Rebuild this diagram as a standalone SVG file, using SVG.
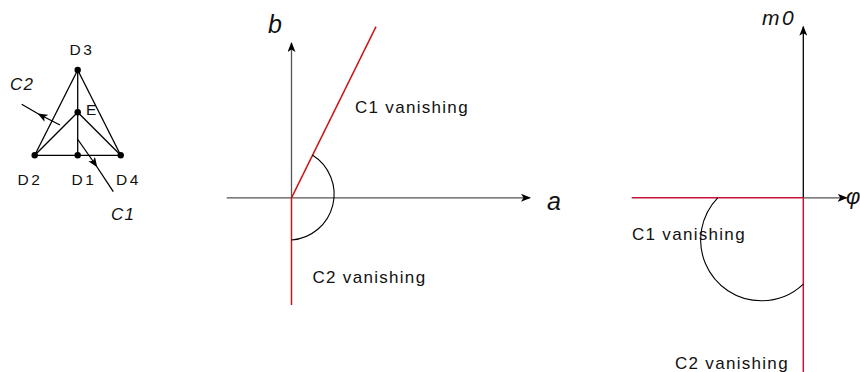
<svg xmlns="http://www.w3.org/2000/svg" width="860" height="372" viewBox="0 0 860 372">
<defs>
<style>
.t{font-family:"Liberation Sans",Arial,sans-serif;fill:#111;}
.lab{font-size:15.5px;letter-spacing:2.5px;}
.van{font-size:17px;letter-spacing:1.3px;}
.it{font-style:italic;}
.blk{stroke:#000;stroke-width:1.3;fill:none;}
.ax{stroke:#555;stroke-width:1.3;fill:none;}
.red1{stroke:#d01414;stroke-width:1.5;fill:none;}
.red2{stroke:#c8143c;stroke-width:1.5;fill:none;}
.arc{stroke:#000;stroke-width:1.1;fill:none;}
</style>
<marker id="ah" markerUnits="userSpaceOnUse" markerWidth="10" markerHeight="8" refX="9" refY="4" orient="auto" viewBox="0 0 10 8">
<path d="M0,0 L10,4 L0,8 L2.5,4 Z" fill="#000"/>
</marker>
</defs>
<rect width="860" height="372" fill="#fff"/>

<g id="tetra">
<g id="edges" class="blk">
<line x1="77.7" y1="70" x2="34.7" y2="155.3"/>
<line x1="77.7" y1="70" x2="120.7" y2="155.3"/>
<line x1="77.7" y1="70" x2="77.7" y2="155.3"/>
<line x1="77.7" y1="112.3" x2="34.7" y2="155.3"/>
<line x1="77.7" y1="112.3" x2="120.7" y2="155.3"/>
<line x1="34.7" y1="155.3" x2="120.7" y2="155.3"/>
</g>
<g id="D3"><circle cx="77.7" cy="70" r="3.2" fill="#000"/><text class="t lab" x="69.5" y="55">D3</text></g>
<g id="E"><circle cx="77.7" cy="112.3" r="3.2" fill="#000"/><text class="t lab" x="86" y="115">E</text></g>
<g id="D2"><circle cx="34.7" cy="155.3" r="3.2" fill="#000"/><text class="t lab" x="17.5" y="185">D2</text></g>
<g id="D1"><circle cx="77.7" cy="155.3" r="3.2" fill="#000"/><text class="t lab" x="71.5" y="185">D1</text></g>
<g id="D4"><circle cx="120.7" cy="155.3" r="3.2" fill="#000"/><text class="t lab" x="116" y="185">D4</text></g>
<g id="C2"><path class="blk" d="M60,125 L38.5,114 L21.7,104.3" style="marker-mid:url(#ah)"/><text class="t van it" x="10" y="90">C2</text></g>
<g id="C1"><path class="blk" d="M77.5,139 L96.7,166.5 L113.3,191.7" style="marker-mid:url(#ah)"/><text class="t van it" x="111" y="220">C1</text></g>
</g>

<g id="plane-ab">
<line class="ax" x1="226.7" y1="197.8" x2="530" y2="197.8" marker-end="url(#ah)"/>
<line class="ax" x1="291.5" y1="197.8" x2="291.5" y2="43" marker-end="url(#ah)"/>
<line class="red1" x1="291.5" y1="197.8" x2="376" y2="26.7"/>
<line class="red1" x1="291.5" y1="197.8" x2="291.5" y2="305"/>
<path class="arc" d="M312.3,155 A46,46 0 0 1 291.5,240"/>
<text class="t it" font-size="25" x="268" y="33">b</text>
<text class="t it" font-size="25" x="547" y="210">a</text>
<text class="t van" x="355" y="112.5">C1 vanishing</text>
<text class="t van" x="312.5" y="283">C2 vanishing</text>
</g>

<g id="plane-phi">
<line class="ax" x1="803.3" y1="197.8" x2="846.7" y2="197.8" marker-end="url(#ah)"/>
<line class="blk" x1="803.3" y1="197.8" x2="803.3" y2="26.7" marker-end="url(#ah)"/>
<line class="red2" x1="631.7" y1="197.8" x2="803.3" y2="197.8"/>
<line class="red2" x1="803.3" y1="197.8" x2="803.3" y2="372"/>
<path class="arc" d="M717.7,197.8 A60.8,60.8 0 0 0 761.5,300.8 A60.8,60.8 0 0 0 803.3,284.2"/>
<text class="t it" font-size="21" letter-spacing="2.5" x="762" y="25">m0</text>
<text class="t it" font-size="22" x="846" y="204">φ</text>
<text class="t van" x="632" y="240">C1 vanishing</text>
<text class="t van" x="675" y="369">C2 vanishing</text>
</g>
</svg>
